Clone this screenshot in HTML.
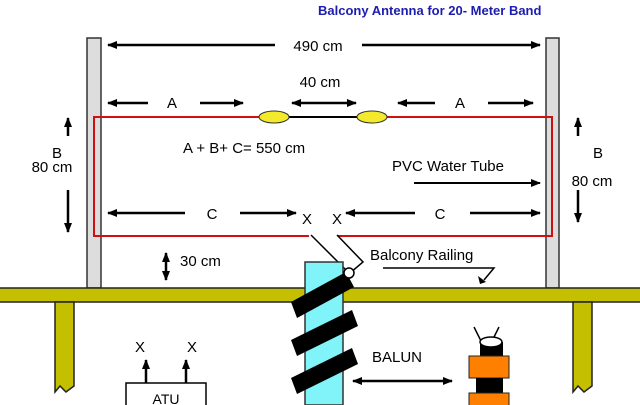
<!DOCTYPE html>
<html><head><style>html,body{margin:0;padding:0;background:#fff;overflow:hidden}svg{display:block}text{font-family:"Liberation Sans",Arial,sans-serif}</style></head>
<body>
<svg width="640" height="405" viewBox="0 0 640 405" xmlns="http://www.w3.org/2000/svg">
<defs>
<marker id="a" markerWidth="10" markerHeight="8" refX="9" refY="4" orient="auto" markerUnits="userSpaceOnUse"><path d="M0,0 L10,4 L0,8 z" fill="#000"/></marker>
<marker id="b" markerWidth="10" markerHeight="8" refX="1" refY="4" orient="auto" markerUnits="userSpaceOnUse"><path d="M10,0 L0,4 L10,8 z" fill="#000"/></marker>
</defs>
<text x="318" y="15" font-size="13" font-weight="bold" fill="#1c1cb0">Balcony Antenna for 20- Meter Band</text>
<rect x="87" y="38" width="14" height="250" fill="#ddd" stroke="#333" stroke-width="1.5"/>
<rect x="546" y="38" width="13" height="250" fill="#ddd" stroke="#333" stroke-width="1.5"/>
<g stroke="#000" stroke-width="2.5" fill="none">
<line x1="108" y1="45" x2="275" y2="45" marker-start="url(#b)"/>
<line x1="362" y1="45" x2="540" y2="45" marker-end="url(#a)"/>
<line x1="108" y1="103" x2="148" y2="103" marker-start="url(#b)"/>
<line x1="200" y1="103" x2="243" y2="103" marker-end="url(#a)"/>
<line x1="292" y1="103" x2="356" y2="103" marker-start="url(#b)" marker-end="url(#a)"/>
<line x1="398" y1="103" x2="435" y2="103" marker-start="url(#b)"/>
<line x1="488" y1="103" x2="533" y2="103" marker-end="url(#a)"/>
<line x1="108" y1="213" x2="185" y2="213" marker-start="url(#b)"/>
<line x1="240" y1="213" x2="296" y2="213" marker-end="url(#a)"/>
<line x1="346" y1="213" x2="415" y2="213" marker-start="url(#b)"/>
<line x1="470" y1="213" x2="540" y2="213" marker-end="url(#a)"/>
<line x1="414" y1="183" x2="540" y2="183" stroke-width="2" marker-end="url(#a)"/>
<line x1="68" y1="136" x2="68" y2="118" marker-end="url(#a)"/>
<line x1="68" y1="190" x2="68" y2="232" marker-end="url(#a)"/>
<line x1="578" y1="136" x2="578" y2="118" marker-end="url(#a)"/>
<line x1="578" y1="190" x2="578" y2="222" marker-end="url(#a)"/>
<line x1="166" y1="253" x2="166" y2="280" marker-start="url(#b)" marker-end="url(#a)"/>
<line x1="353" y1="381" x2="452" y2="381" marker-start="url(#b)" marker-end="url(#a)"/>
<line x1="146" y1="383" x2="146" y2="360" marker-end="url(#a)"/>
<line x1="186" y1="383" x2="186" y2="360" marker-end="url(#a)"/>
<polyline points="383,268 494,268 484,280" stroke-width="1.5"/>
</g>
<path d="M478,276 L486,282 L480,284z" fill="#000"/>
<path d="M261,117 H94 V236 H309 M338,236 H552 V117 H386" fill="none" stroke="#d01010" stroke-width="2"/>
<line x1="285" y1="117" x2="360" y2="117" stroke="#000" stroke-width="2"/>
<ellipse cx="274" cy="117" rx="15" ry="6" fill="#f2ea2a" stroke="#333"/>
<ellipse cx="372" cy="117" rx="15" ry="6" fill="#f2ea2a" stroke="#333"/>
<polyline points="311,235 348,272" fill="none" stroke="#000" stroke-width="1.5"/>
<polyline points="337,235 363,262 350,273" fill="none" stroke="#000" stroke-width="1.5"/>
<rect x="-2" y="288" width="644" height="14" fill="#c4bf00" stroke="#222" stroke-width="1.5"/>
<path d="M55,302 V392 L60,386 L66,392 L74,386 V302z" fill="#c4bf00" stroke="#222" stroke-width="1.5"/>
<path d="M573,302 V392 L578,386 L584,392 L592,386 V302z" fill="#c4bf00" stroke="#222" stroke-width="1.5"/>
<rect x="318" y="398" width="10" height="10" fill="#000"/>
<rect x="305" y="262" width="38" height="143" fill="#80f4f8" stroke="#333" stroke-width="1.5"/>
<g fill="#000">
<polygon points="291,302 346,272 354,287 297,318"/>
<polygon points="291,340 352,310 358,326 297,356"/>
<polygon points="291,378 352,348 358,364 297,394"/>
</g>
<circle cx="349" cy="273" r="5" fill="#fff" stroke="#000" stroke-width="1.5"/>
<line x1="474" y1="327" x2="483" y2="345" stroke="#000" stroke-width="1.5"/>
<line x1="499" y1="327" x2="490" y2="345" stroke="#000" stroke-width="1.5"/>
<rect x="480" y="342" width="23" height="15" fill="#000"/>
<ellipse cx="491" cy="342" rx="11" ry="5" fill="#fff" stroke="#000" stroke-width="1.5"/>
<rect x="469" y="356" width="40" height="22" fill="#ff8000" stroke="#222"/>
<rect x="476" y="378" width="27" height="15" fill="#000"/>
<rect x="469" y="393" width="40" height="16" fill="#ff8000" stroke="#222"/>
<rect x="126" y="383" width="80" height="30" fill="#fff" stroke="#000" stroke-width="1.5"/>
<text x="166" y="404" font-size="14" text-anchor="middle">ATU</text>
<g font-size="15" fill="#000">
<text x="318" y="51" text-anchor="middle">490 cm</text>
<text x="320" y="87" text-anchor="middle">40 cm</text>
<text x="172" y="108" text-anchor="middle">A</text>
<text x="460" y="108" text-anchor="middle">A</text>
<text x="183" y="153">A + B+ C= 550 cm</text>
<text x="392" y="171">PVC Water Tube</text>
<text x="57" y="158" text-anchor="middle">B</text>
<text x="52" y="172" text-anchor="middle">80 cm</text>
<text x="598" y="158" text-anchor="middle">B</text>
<text x="592" y="186" text-anchor="middle">80 cm</text>
<text x="212" y="219" text-anchor="middle">C</text>
<text x="440" y="219" text-anchor="middle">C</text>
<text x="307" y="224" text-anchor="middle">X</text>
<text x="337" y="224" text-anchor="middle">X</text>
<text x="180" y="266">30 cm</text>
<text x="370" y="260">Balcony Railing</text>
<text x="372" y="362">BALUN</text>
<text x="140" y="352" text-anchor="middle">X</text>
<text x="192" y="352" text-anchor="middle">X</text>
</g>
</svg>
</body></html>
